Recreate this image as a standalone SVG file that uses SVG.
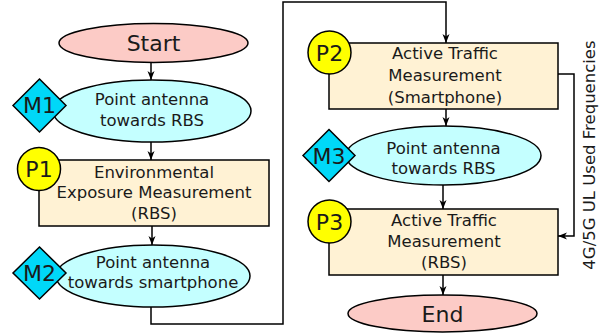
<svg xmlns="http://www.w3.org/2000/svg" width="615" height="334" viewBox="0 0 615 334">
<defs>
<marker id="arr" markerWidth="10" markerHeight="10" refX="9" refY="3.5" orient="auto" markerUnits="userSpaceOnUse">
<path d="M0,0 L9,3.5 L0,7 L2.5,3.5 Z" fill="#000"/>
</marker>
<style>
text{font-family:"DejaVu Sans",sans-serif;fill:#1a1a1a;text-anchor:middle}
.t{font-size:16.5px}
.big{font-size:22px}
.term{fill:#fccbc6;stroke:#000;stroke-width:1.5}
.pt{fill:#c4ffff;stroke:#000;stroke-width:1.5}
.proc{fill:#fff2d4;stroke:#000;stroke-width:1.5}
.dia{fill:#00d8f8;stroke:#000;stroke-width:1.5}
.circ{fill:#ffff00;stroke:#000;stroke-width:1.5}
.c{fill:none;stroke:#000;stroke-width:1.5;marker-end:url(#arr)}
</style>
</defs>
<g id="connectors">
<path class="c" d="M151,62 V80"/>
<path class="c" d="M151,142 V160"/>
<path class="c" d="M152,226 V245"/>
<path class="c" d="M151,307 V324 H283 V2 H446 V43"/>
<path class="c" d="M446,109 V126"/>
<path class="c" d="M443,185 V209"/>
<path class="c" d="M443,275 V295"/>
<path class="c" d="M558,74 H574 V236 H558"/>
</g>
<g id="start">
<ellipse class="term" cx="153.5" cy="43" rx="94.5" ry="19.5"/>
<text class="big" x="153.5" y="51">Start</text>
</g>
<g id="m1node">
<ellipse class="pt" cx="152" cy="111" rx="99" ry="31"/>
<text class="t" x="152" y="105">Point antenna</text>
<text class="t" x="152" y="126">towards RBS</text>
</g>
<g id="m1">
<path class="dia" d="M39.5,79 L66,105.5 L39.5,132 L13,105.5 Z"/>
<text class="big" x="39.5" y="113">M1</text>
</g>
<g id="p1node">
<rect class="proc" x="39" y="160" width="230" height="66"/>
<text class="t" x="154" y="178">Environmental</text>
<text class="t" x="154" y="198">Exposure Measurement</text>
<text class="t" x="154" y="219">(RBS)</text>
</g>
<g id="p1">
<circle class="circ" cx="39" cy="169" r="21.5"/>
<text class="big" x="39" y="177">P1</text>
</g>
<g id="m2node">
<ellipse class="pt" cx="153" cy="276" rx="97" ry="31"/>
<text class="t" x="153" y="268">Point antenna</text>
<text class="t" x="153" y="288">towards smartphone</text>
</g>
<g id="m2">
<path class="dia" d="M39.5,247 L66,273 L39.5,299 L13,273 Z"/>
<text class="big" x="39.5" y="281">M2</text>
</g>
<g id="p2node">
<rect class="proc" x="329" y="43" width="229" height="66"/>
<text class="t" x="445" y="59">Active Traffic</text>
<text class="t" x="445" y="81">Measurement</text>
<text class="t" x="445" y="103">(Smartphone)</text>
</g>
<g id="p2">
<circle class="circ" cx="329.5" cy="52.5" r="21.5"/>
<text class="big" x="329.5" y="60.5">P2</text>
</g>
<g id="m3node">
<ellipse class="pt" cx="443.5" cy="155.5" rx="97.5" ry="29.5"/>
<text class="t" x="443.5" y="154">Point antenna</text>
<text class="t" x="443.5" y="174">towards RBS</text>
</g>
<g id="m3">
<path class="dia" d="M329,129.5 L355,155.5 L329,181.5 L303,155.5 Z"/>
<text class="big" x="329" y="163.5">M3</text>
</g>
<g id="p3node">
<rect class="proc" x="329" y="209" width="229" height="66"/>
<text class="t" x="444" y="226">Active Traffic</text>
<text class="t" x="444" y="247">Measurement</text>
<text class="t" x="444" y="268">(RBS)</text>
</g>
<g id="p3">
<circle class="circ" cx="329.5" cy="221.5" r="21.5"/>
<text class="big" x="329.5" y="229.5">P3</text>
</g>
<g id="end">
<ellipse class="term" cx="442.5" cy="313.5" rx="94.5" ry="18.5"/>
<text class="big" x="442.5" y="321.5">End</text>
</g>
<g id="label">
<text class="t" transform="translate(595,155) rotate(-90)" x="0" y="0">4G/5G UL Used Frequencies</text>
</g>
</svg>
